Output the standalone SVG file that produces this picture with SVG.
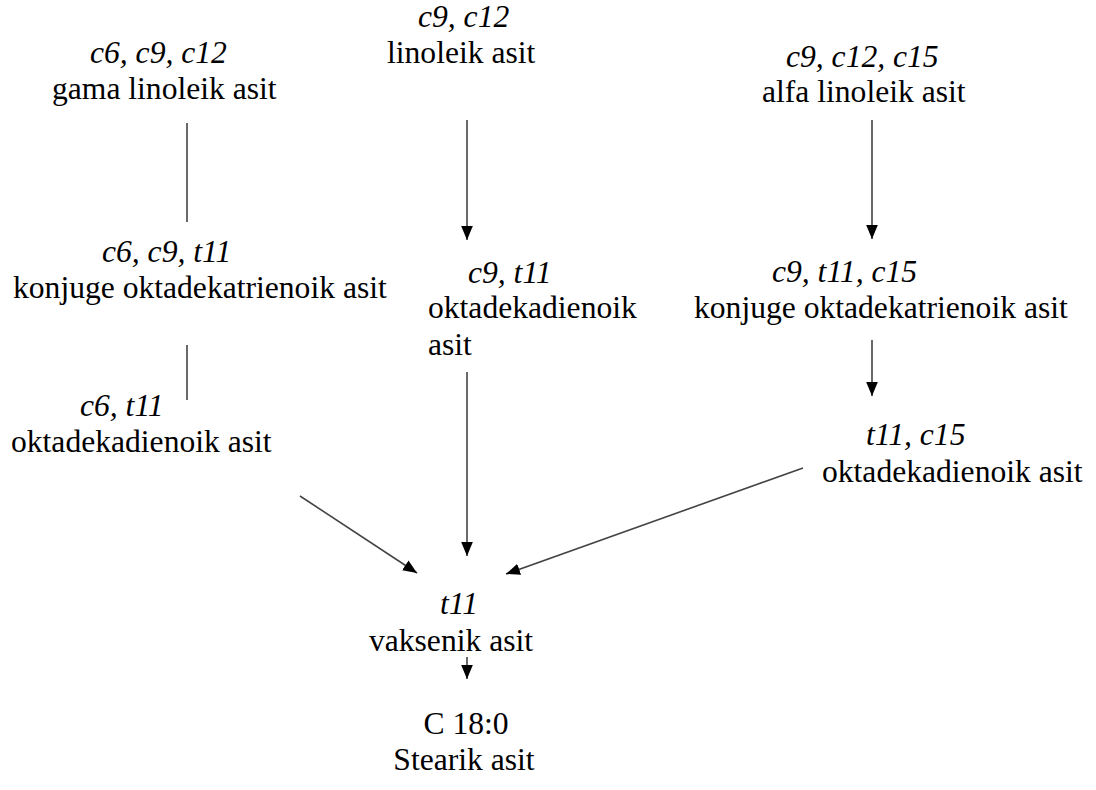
<svg xmlns="http://www.w3.org/2000/svg" width="1096" height="790" viewBox="0 0 1096 790">
<style>
.t text{font-family:"Liberation Serif","Times New Roman",Times,"DejaVu Serif",serif;font-size:31.6px;fill:#000}
.t .i{font-style:italic}
.c{stroke:#444;stroke-width:1.6;fill:none}
</style>
<defs>
<marker id="ah" markerUnits="userSpaceOnUse" markerWidth="14" markerHeight="12" viewBox="0 0 12 10" refX="12" refY="5" orient="auto">
<path d="M0,0 L12,5 L0,10 Z" fill="#000"/>
</marker>
</defs>
<rect width="1096" height="790" fill="#fff"/>
<g id="connectors">
<line class="c" x1="187" y1="123" x2="187" y2="222"/>
<line class="c" x1="187" y1="345" x2="187" y2="400"/>
<line class="c" x1="467" y1="120" x2="467" y2="240" marker-end="url(#ah)"/>
<line class="c" x1="467" y1="372" x2="467" y2="556" marker-end="url(#ah)"/>
<line class="c" x1="872" y1="120" x2="872" y2="239" marker-end="url(#ah)"/>
<line class="c" x1="872" y1="340" x2="872" y2="396" marker-end="url(#ah)"/>
<line class="c" x1="300" y1="496" x2="417" y2="573" marker-end="url(#ah)"/>
<line class="c" x1="803" y1="468" x2="506" y2="574" marker-end="url(#ah)"/>
<line class="c" x1="467" y1="657" x2="467" y2="679" marker-end="url(#ah)"/>
</g>
<g class="t">
<g id="gama">
<text class="i" x="90" y="63">c6, c9, c12</text>
<text x="52" y="99">gama linoleik asit</text>
</g>
<g id="linoleik">
<text class="i" x="418" y="27">c9, c12</text>
<text x="387" y="63">linoleik asit</text>
</g>
<g id="alfa">
<text class="i" x="786" y="67">c9, c12, c15</text>
<text x="762" y="102">alfa linoleik asit</text>
</g>
<g id="konjuge1">
<text class="i" x="102" y="262">c6, c9, t11</text>
<text x="13" y="298">konjuge oktadekatrienoik asit</text>
</g>
<g id="okta-c9t11">
<text class="i" x="468" y="283">c9, t11</text>
<text x="428" y="318">oktadekadienoik</text>
<text x="428" y="355">asit</text>
</g>
<g id="konjuge2">
<text class="i" x="772" y="282">c9, t11, c15</text>
<text x="694" y="318">konjuge oktadekatrienoik asit</text>
</g>
<g id="okta-c6t11">
<text class="i" x="80" y="416">c6, t11</text>
<text x="11" y="452">oktadekadienoik asit</text>
</g>
<g id="okta-t11c15">
<text class="i" x="866" y="445">t11, c15</text>
<text x="822" y="482">oktadekadienoik asit</text>
</g>
<g id="vaksenik">
<text class="i" x="440" y="614">t11</text>
<text x="451" y="651" text-anchor="middle">vaksenik asit</text>
</g>
<g id="stearik">
<text x="466" y="734" text-anchor="middle">C 18:0</text>
<text x="464" y="770" text-anchor="middle">Stearik asit</text>
</g>
</g>
</svg>
